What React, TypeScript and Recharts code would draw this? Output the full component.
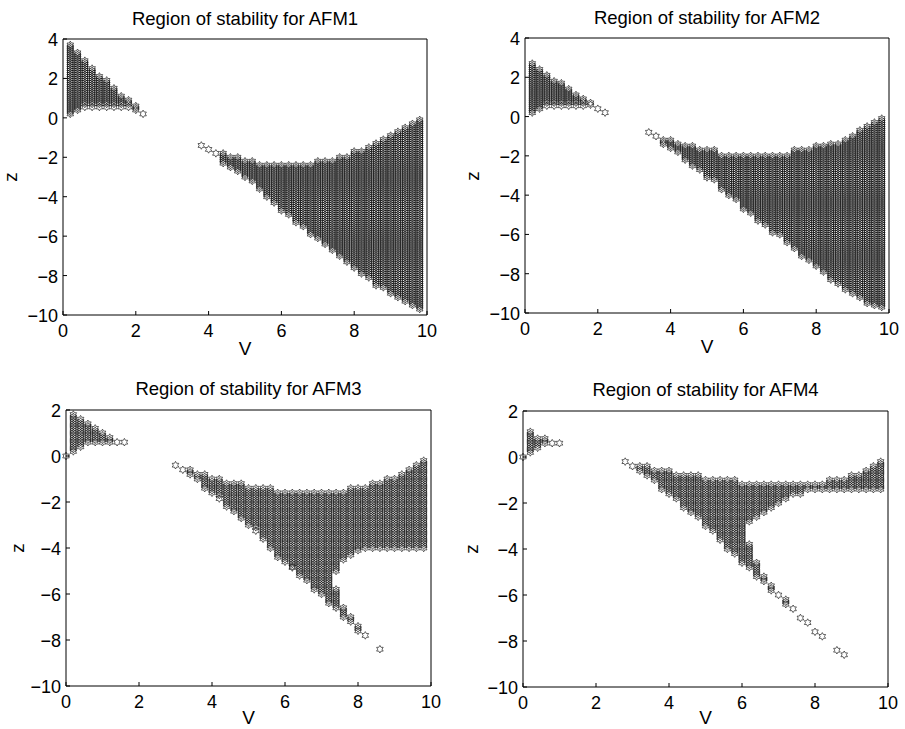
import React from 'react';
import { ScatterChart, Scatter, XAxis, YAxis } from 'recharts';

// each column: [V, z top, z bottom]
type Col = [number, number, number];

const vTicks = [0, 2, 4, 6, 8, 10];
const zTicksTop = [4, 2, 0, -2, -4, -6, -8, -10];
const zTicksBottom = [2, 0, -2, -4, -6, -8, -10];
const zStep = 0.1;

const afm1Left: Col[] = [
  [0.2, 3.7, 0.2], [0.4, 3.3, 0.4], [0.6, 2.9, 0.55], [0.8, 2.5, 0.55], [1.0, 2.1, 0.55], [1.2, 1.9, 0.55],
  [1.4, 1.5, 0.55], [1.6, 1.1, 0.55], [1.8, 0.9, 0.55], [2.0, 0.6, 0.4], [2.2, 0.2, 0.2],
];
const afm1Right: Col[] = [
  [3.8, -1.4, -1.4], [4.0, -1.6, -1.6], [4.2, -1.8, -1.8], [4.4, -1.8, -2.3], [4.6, -2.0, -2.5], [4.8, -2.0, -2.7],
  [5.0, -2.2, -3.0], [5.2, -2.2, -3.2], [5.4, -2.4, -3.6], [5.6, -2.4, -4.0], [5.8, -2.4, -4.3], [6.0, -2.4, -4.7],
  [6.2, -2.4, -4.9], [6.4, -2.4, -5.3], [6.6, -2.4, -5.5], [6.8, -2.4, -5.9], [7.0, -2.2, -6.1], [7.2, -2.2, -6.4],
  [7.4, -2.2, -6.7], [7.6, -2.0, -7.0], [7.8, -2.0, -7.3], [8.0, -1.7, -7.6], [8.2, -1.7, -7.9], [8.4, -1.5, -8.1],
  [8.6, -1.3, -8.5], [8.8, -1.1, -8.6], [9.0, -0.9, -8.9], [9.2, -0.7, -9.1], [9.4, -0.5, -9.3], [9.6, -0.3, -9.5],
  [9.8, -0.1, -9.7],
];

const afm2Left: Col[] = [
  [0.2, 2.7, 0.2], [0.4, 2.4, 0.4], [0.6, 2.1, 0.55], [0.8, 1.8, 0.55], [1.0, 1.7, 0.55], [1.2, 1.4, 0.55],
  [1.4, 1.1, 0.55], [1.6, 0.9, 0.55], [1.8, 0.7, 0.6], [2.0, 0.4, 0.4], [2.2, 0.2, 0.2],
];
const afm2Right: Col[] = [
  [3.4, -0.8, -0.8], [3.6, -1.0, -1.0], [3.8, -1.2, -1.4], [4.0, -1.2, -1.6], [4.2, -1.4, -1.8], [4.4, -1.5, -2.2],
  [4.6, -1.5, -2.5], [4.8, -1.7, -2.7], [5.0, -1.7, -3.1], [5.2, -1.7, -3.2], [5.4, -2.0, -3.7], [5.6, -2.0, -4.0],
  [5.8, -2.0, -4.2], [6.0, -2.0, -4.7], [6.2, -2.0, -4.9], [6.4, -2.0, -5.3], [6.6, -2.0, -5.5], [6.8, -2.0, -5.9],
  [7.0, -2.0, -6.0], [7.2, -2.0, -6.4], [7.4, -1.7, -6.7], [7.6, -1.7, -7.1], [7.8, -1.7, -7.3], [8.0, -1.5, -7.6],
  [8.2, -1.5, -7.9], [8.4, -1.4, -8.3], [8.6, -1.4, -8.5], [8.8, -1.2, -8.8], [9.0, -1.0, -9.0], [9.2, -0.7, -9.2],
  [9.4, -0.5, -9.5], [9.6, -0.3, -9.6], [9.8, -0.1, -9.7],
];

const afm3Left: Col[] = [
  [0, 0, 0], [0.2, 1.8, 0.2], [0.4, 1.6, 0.4], [0.6, 1.4, 0.6], [0.8, 1.2, 0.6], [1.0, 1.0, 0.6],
  [1.2, 0.8, 0.6], [1.4, 0.6, 0.6], [1.6, 0.6, 0.6],
];
const afm3Right: Col[] = [
  [3.0, -0.4, -0.4], [3.2, -0.6, -0.6], [3.4, -0.6, -0.8], [3.6, -0.8, -1.0], [3.8, -0.8, -1.4], [4.0, -1.0, -1.6],
  [4.2, -1.0, -1.85], [4.4, -1.2, -2.2], [4.6, -1.2, -2.4], [4.8, -1.2, -2.7], [5.0, -1.4, -3.0], [5.2, -1.4, -3.25],
  [5.4, -1.4, -3.6], [5.6, -1.4, -4.0], [5.8, -1.6, -4.4], [6.0, -1.6, -4.6], [6.2, -1.6, -4.85], [6.4, -1.6, -5.2],
  [6.6, -1.6, -5.4], [6.8, -1.6, -5.8], [7.0, -1.6, -6.0], [7.2, -1.6, -6.4], [7.4, -1.6, -5.0], [7.6, -1.6, -4.5],
  [7.8, -1.4, -4.3], [8.0, -1.4, -4.1], [8.2, -1.4, -4.0], [8.4, -1.2, -4.0], [8.6, -1.2, -4.0], [8.8, -1.0, -4.0],
  [9.0, -1.0, -4.0], [9.2, -0.8, -4.0], [9.4, -0.6, -4.0], [9.6, -0.4, -4.0], [9.8, -0.2, -4.0],
];
const afm3Tail: Col[] = [
  [7.4, -5.8, -6.6], [7.6, -6.6, -7.0], [7.8, -7.0, -7.2], [8.0, -7.4, -7.6], [8.2, -7.8, -7.8], [8.6, -8.4, -8.4],
];

const afm4Left: Col[] = [
  [0, 0, 0], [0.2, 1.1, 0.2], [0.4, 0.8, 0.4], [0.6, 0.8, 0.6], [0.8, 0.6, 0.6], [1.0, 0.6, 0.6],
];
const afm4Right: Col[] = [
  [2.8, -0.2, -0.2], [3.0, -0.4, -0.4], [3.2, -0.4, -0.6], [3.4, -0.4, -0.8], [3.6, -0.6, -1.0], [3.8, -0.6, -1.4],
  [4.0, -0.6, -1.6], [4.2, -0.8, -1.8], [4.4, -0.8, -2.2], [4.6, -0.8, -2.4], [4.8, -0.8, -2.6], [5.0, -1.0, -3.0],
  [5.2, -1.0, -3.2], [5.4, -1.0, -3.6], [5.6, -1.0, -4.0], [5.8, -1.0, -4.2], [6.0, -1.2, -4.6], [6.2, -1.2, -2.8],
  [6.4, -1.2, -2.6], [6.6, -1.2, -2.4], [6.8, -1.2, -2.2], [7.0, -1.2, -2.0], [7.2, -1.2, -1.8], [7.4, -1.2, -1.6],
  [7.6, -1.2, -1.6], [7.8, -1.2, -1.4], [8.0, -1.2, -1.4], [8.2, -1.2, -1.4], [8.4, -1.0, -1.4], [8.6, -1.0, -1.4],
  [8.8, -1.0, -1.4], [9.0, -0.8, -1.4], [9.2, -0.8, -1.4], [9.4, -0.6, -1.4], [9.6, -0.4, -1.4], [9.8, -0.2, -1.4],
];
const afm4Tail: Col[] = [
  [6.2, -3.8, -4.8], [6.4, -4.6, -5.2], [6.6, -5.2, -5.4], [6.8, -5.6, -5.8], [7.0, -6.0, -6.0], [7.2, -6.2, -6.4],
  [7.4, -6.6, -6.6], [7.6, -7.0, -7.0], [7.8, -7.2, -7.2], [8.0, -7.6, -7.6], [8.2, -7.8, -7.8], [8.6, -8.4, -8.4],
  [8.8, -8.6, -8.6],
];

// expand column ranges onto the sampled z grid
function toPoints(...groups: Col[][]) {
  const pts: { v: number; z: number }[] = [];
  groups.forEach((cols) =>
    cols.forEach(([v, top, bottom]) => {
      let z = top;
      while (z > bottom + 0.05) {
        pts.push({ v, z });
        z -= zStep;
      }
      pts.push({ v, z: bottom });
    })
  );
  return pts;
}

const font = '"Liberation Sans", Arial, Helvetica, sans-serif';
const tickFont = 18;

const R = 3.8;
const starPath = (() => {
  const pts: string[] = [];
  for (let i = 0; i < 12; i++) {
    const a = ((-90 + i * 30) * Math.PI) / 180;
    const r = i % 2 === 0 ? R : R / Math.sqrt(3);
    pts.push(`${(r * Math.cos(a)).toFixed(2)},${(r * Math.sin(a)).toFixed(2)}`);
  }
  return 'M' + pts.join('L') + 'Z';
})();

const Star = (props: any) => {
  const { cx, cy } = props;
  if (cx == null || cy == null) return null;
  return <path d={starPath} transform={`translate(${cx},${cy})`} fill="none" stroke="#000" strokeWidth={0.6} />;
};

const fmt = (n: number) => (n < 0 ? '\u2212' + Math.abs(n) : String(n));

const BottomTick = ({ x, y, payload }: any) => (
  <g>
    <line x1={x} x2={x} y1={y} y2={y - 4} stroke="#000" />
    <text x={x} y={y + 22} textAnchor="middle" fontSize={tickFont} fontFamily={font} fill="#000">
      {fmt(payload.value)}
    </text>
  </g>
);
const TopTick = ({ x, y }: any) => <line x1={x} x2={x} y1={y} y2={y + 4} stroke="#000" />;
const LeftTick = ({ x, y, payload }: any) => (
  <g>
    <line x1={x} x2={x + 4} y1={y} y2={y} stroke="#000" />
    <text x={x - 5} y={y + 7} textAnchor="end" fontSize={tickFont} fontFamily={font} fill="#000">
      {fmt(payload.value)}
    </text>
  </g>
);
const RightTick = ({ x, y }: any) => <line x1={x} x2={x - 4} y1={y} y2={y} stroke="#000" />;

type PanelProps = {
  left: number;
  top: number;
  width: number;
  height: number;
  plot: { x: number; y: number; w: number; h: number };
  zTicks: number[];
  data: { v: number; z: number }[];
};

const AXW = 30; // space reserved for each axis

const Panel = ({ left, top, width, height, plot, zTicks, data }: PanelProps) => {
  const zDomain = [zTicks[zTicks.length - 1], zTicks[0]];
  const axisLine = { stroke: '#000', strokeWidth: 1 };
  return (
    <div style={{ position: 'absolute', left, top }}>
      <ScatterChart
        width={width}
        height={height}
        margin={{
          top: plot.y - 6,
          left: plot.x - AXW,
          right: width - plot.x - plot.w - 6,
          bottom: height - plot.y - plot.h - AXW,
        }}
      >
        <XAxis dataKey="v" type="number" domain={[0, 10]} ticks={vTicks} interval={0} height={AXW} tickSize={0} tickMargin={0} tickLine={false} axisLine={axisLine} tick={(p: any) => <BottomTick {...p} />} />
        <XAxis xAxisId="top" orientation="top" type="number" domain={[0, 10]} ticks={vTicks} interval={0} height={6} tickSize={0} tickMargin={0} tickLine={false} axisLine={axisLine} tick={(p: any) => <TopTick {...p} />} />
        <YAxis dataKey="z" type="number" domain={zDomain} ticks={zTicks} interval={0} width={AXW} tickSize={0} tickMargin={0} tickLine={false} axisLine={axisLine} tick={(p: any) => <LeftTick {...p} />} />
        <YAxis yAxisId="right" orientation="right" type="number" domain={zDomain} ticks={zTicks} interval={0} width={6} tickSize={0} tickMargin={0} tickLine={false} axisLine={axisLine} tick={(p: any) => <RightTick {...p} />} />
        <Scatter data={data} shape={Star} isAnimationActive={false} />
      </ScatterChart>
    </div>
  );
};

const titles = [
  { x: 245, y: 25, t: 'Region of stability for AFM1' },
  { x: 707, y: 24, t: 'Region of stability for AFM2' },
  { x: 248.5, y: 395, t: 'Region of stability for AFM3' },
  { x: 705.5, y: 396, t: 'Region of stability for AFM4' },
];
const vLabels = [
  { x: 245, y: 355 },
  { x: 707, y: 353 },
  { x: 248.5, y: 724 },
  { x: 705.5, y: 724 },
];
const zLabels = [
  { x: 17, y: 177 },
  { x: 479, y: 176 },
  { x: 24, y: 548 },
  { x: 478, y: 549 },
];

export default function App() {
  return (
    <div style={{ position: 'absolute', left: 0, top: 0, width: 905, height: 729, background: '#fff', overflow: 'hidden' }}>
      <Panel left={0} top={0} width={450} height={360} plot={{ x: 63, y: 39, w: 364, h: 276 }} zTicks={zTicksTop} data={toPoints(afm1Left, afm1Right)} />
      <Panel left={450} top={0} width={455} height={360} plot={{ x: 75, y: 38, w: 364, h: 275 }} zTicks={zTicksTop} data={toPoints(afm2Left, afm2Right)} />
      <Panel left={0} top={360} width={450} height={369} plot={{ x: 66, y: 50, w: 365, h: 276 }} zTicks={zTicksBottom} data={toPoints(afm3Left, afm3Right, afm3Tail)} />
      <Panel left={450} top={360} width={455} height={369} plot={{ x: 73, y: 51, w: 365, h: 276 }} zTicks={zTicksBottom} data={toPoints(afm4Left, afm4Right, afm4Tail)} />
      <svg width={905} height={729} style={{ position: 'absolute', left: 0, top: 0, pointerEvents: 'none' }}>
        {titles.map((d) => (
          <text key={d.t} x={d.x} y={d.y} textAnchor="middle" fontSize={18.5} fontFamily={font} fill="#000">
            {d.t}
          </text>
        ))}
        {vLabels.map((d, i) => (
          <text key={'v' + i} x={d.x} y={d.y} textAnchor="middle" fontSize={19} fontFamily={font} fill="#000">
            V
          </text>
        ))}
        {zLabels.map((d, i) => (
          <text key={'z' + i} x={d.x} y={d.y} textAnchor="middle" fontSize={19} fontFamily={font} fill="#000" transform={`rotate(-90 ${d.x} ${d.y})`}>
            z
          </text>
        ))}
      </svg>
    </div>
  );
}
